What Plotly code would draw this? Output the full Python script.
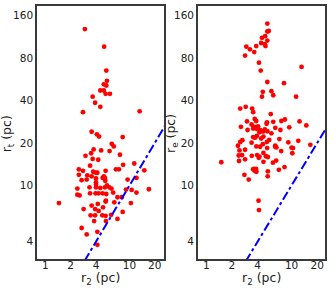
import plotly.graph_objects as go

# Left panel: r_2 vs r_t (pc)
left_r2 = [2.95, 5.0, 5.3, 5.4, 4.95, 5.3, 4.5, 4.95, 5.2, 5.85, 3.65, 3.9, 4.5, 2.8, 13.2,
           3.55, 4.1, 4.35, 8.3, 6.15, 6.5, 3.75, 4.6, 5.8, 3.5, 3.0, 4.25, 3.65, 7.7, 3.4,
           11.4, 8.4, 2.5, 2.8, 3.7, 4.0, 4.15, 5.2, 6.9, 7.5, 15.0, 2.5, 3.15, 3.55, 2.7,
           3.1, 4.0, 4.8, 4.95, 5.1, 5.15, 4.0, 5.4, 4.0, 9.5, 12.1, 2.4, 3.35, 4.0, 4.5,
           5.1, 5.75, 6.1, 9.1, 10.6, 17.0, 2.4, 2.55, 3.4, 3.95, 4.3, 4.8, 5.3, 6.4, 12.1,
           7.2, 8.1, 10.4, 1.45, 4.2, 3.55, 5.25, 5.2, 6.6, 2.85, 3.9, 4.3, 4.85, 3.45, 3.9,
           4.75, 5.2, 6.05, 8.3, 3.8, 5.25, 7.2, 2.7, 4.15, 3.1, 4.15]
left_rt = [128, 96, 65, 55, 52, 51, 47, 47, 44.5, 44.5, 42.5, 38.5, 36, 33, 33.5,
           24, 23, 22.2, 22, 19.7, 18.9, 18, 17.7, 17.5, 16.9, 16.2, 15.2, 15.4, 16.5, 13.8,
           14.3, 14, 13, 12.7, 12.5, 12.3, 12.3, 12.7, 13, 13, 12.8, 11.9, 11.8, 11.6, 10.9,
           11, 11.2, 11.3, 11.6, 11.3, 10.8, 10.5, 10.0, 10.1, 11, 11.3, 9.5, 9.7, 9.7, 9.6,
           9.7, 9.7, 9.5, 9.35, 9.3, 9.4, 8.6, 8.5, 8.8, 8.8, 8.8, 8.8, 8.7, 8.9, 8.9,
           8.25, 8.25, 7.5, 7.5, 7.4, 7.2, 7.8, 7.7, 7.6, 6.8, 6.8, 6.6, 7.0, 6.15, 6.15,
           6.15, 6.1, 6.2, 6.5, 5.6, 5.6, 5.8, 5.0, 4.7, 4.5, 3.8]

# Right panel: r_2 vs r_e (pc)
right_r2 = [5.2, 5.4, 5.2, 4.9, 4.5, 5.2, 4.4, 4.85, 4.95, 3.85, 2.95, 3.25, 3.65, 2.85,
            4.15, 13.1, 4.35, 5.2, 8.15, 5.8, 4.6, 6.1, 4.5, 11.3, 2.5, 2.9, 3.45, 3.55,
            5.7, 3.0, 3.7, 3.85, 5.15, 5.1, 6.1, 7.6, 8.35, 12.4, 14.9, 2.55, 3.4, 3.65,
            3.55, 4.05, 3.9, 3.05, 4.28, 4.52, 4.2, 4.68, 4.86, 5.2, 6.45, 7.4, 9.4, 3.54,
            3.92, 3.73, 4.68, 4.4, 5.8, 7.2, 2.65, 2.5, 2.35, 3.4, 4.28, 4.6, 5.13, 5.47,
            6.43, 6.65, 9.15, 10.0, 12.0, 16.6, 2.45, 2.85, 2.4, 2.63, 3.42, 3.95, 4.2,
            4.13, 4.68, 5.0, 6.05, 6.6, 7.56, 10.2, 10.4, 4.68, 5.27, 1.5, 2.42, 2.85,
            3.61, 3.84, 3.7, 3.87, 3.54, 5.27, 7.1, 8.27, 2.8, 5.25, 3.15, 4.1, 4.15,
            3.87, 5.17, 6.43]
right_re = [140, 124, 123, 114, 111, 106, 102, 100, 97, 97, 96, 92, 88, 83,
            74, 69, 65, 54, 53, 46.5, 46, 43.5, 42.5, 42.5, 35, 36, 35, 33,
            32, 28.4, 29.6, 28.6, 28, 27.3, 28.2, 28.6, 29.3, 28.4, 26.6, 26, 27, 26,
            25.3, 26.2, 25.2, 24.7, 24.6, 24.2, 23.8, 24.2, 24.9, 24.2, 25.6, 24.7, 25.8, 22,
            22.4, 21.8, 22.2, 21.5, 23.4, 21.3, 20.9, 20.3, 19.1, 20.1, 18.8, 19.6, 20.3, 21,
            19.1, 18.6, 20.2, 18.5, 20.7, 19.4, 17.7, 17.9, 16.3, 16.4, 16.2, 16.4, 16.0,
            15.7, 17.0, 16.1, 14.5, 15.0, 17.5, 16.9, 18.4, 14.7, 15.9, 14.6, 14.9, 15.3,
            13.1, 13.1, 12.7, 12.5, 13.0, 12.6, 12.9, 13.5, 11.9, 11.6, 11.0, 7.8, 6.7,
            18.9, 18.4, 18.8]

# one-to-one reference line (r = r_2)
one_to_one = [0.5, 200]

x_ticks = [1, 2, 4, 10, 20]
y_ticks = [4, 10, 20, 40, 80, 160]

font_family = "DejaVu Sans"
frame_color = "#3a3a3a"
text_color = "#222222"

fig = go.Figure()
fig.add_trace(go.Scatter(x=left_r2, y=left_rt, mode="markers",
                         marker=dict(color="#ff0000", size=4.8), xaxis="x", yaxis="y",
                         showlegend=False))
fig.add_trace(go.Scatter(x=one_to_one, y=one_to_one, mode="lines",
                         line=dict(color="#0000ff", width=2, dash="dashdot"),
                         xaxis="x", yaxis="y", showlegend=False))
fig.add_trace(go.Scatter(x=right_r2, y=right_re, mode="markers",
                         marker=dict(color="#ff0000", size=4.8), xaxis="x2", yaxis="y2",
                         showlegend=False))
fig.add_trace(go.Scatter(x=one_to_one, y=one_to_one, mode="lines",
                         line=dict(color="#0000ff", width=2, dash="dashdot"),
                         xaxis="x2", yaxis="y2", showlegend=False))

common_x = dict(type="log", tickvals=x_ticks, ticktext=[str(v) for v in x_ticks],
                showgrid=False, zeroline=False, showline=True, mirror=True,
                linecolor=frame_color, linewidth=1.5, ticks="", ticklabelstandoff=-4,
                tickfont=dict(family=font_family, size=10.5, color=text_color),
                automargin=False)
common_y = dict(type="log", tickvals=y_ticks, ticktext=[str(v) for v in y_ticks],
                showgrid=False, zeroline=False, showline=True, mirror=True,
                linecolor=frame_color, linewidth=1.5, ticks="",
                tickfont=dict(family=font_family, size=10.5, color=text_color),
                range=[0.48, 2.27], automargin=False)

title_font = dict(family=font_family, size=12.5, color=text_color)

fig.update_layout(
    width=336, height=288,
    margin=dict(l=0, r=0, t=0, b=0),
    paper_bgcolor="white", plot_bgcolor="white",
    xaxis=dict(common_x, domain=[0.110, 0.488], range=[-0.10, 1.41], anchor="y"),
    yaxis=dict(common_y, domain=[0.101, 0.979], anchor="x"),
    xaxis2=dict(common_x, domain=[0.589, 0.967], range=[-0.098, 1.391], anchor="y2"),
    yaxis2=dict(common_y, domain=[0.101, 0.979], anchor="x2"),
    annotations=[
        dict(text="r<sub>2</sub> (pc)", x=0.299, y=0.0, xref="paper", yref="paper",
             showarrow=False, font=title_font, xanchor="center", yanchor="bottom", borderpad=0),
        dict(text="r<sub>2</sub> (pc)", x=0.778, y=0.0, xref="paper", yref="paper",
             showarrow=False, font=title_font, xanchor="center", yanchor="bottom", borderpad=0),
        dict(text="r<sub>t</sub> (pc)", x=0.025, y=0.535, xref="paper", yref="paper",
             showarrow=False, font=title_font, textangle=-90, xanchor="center", yanchor="middle"),
        dict(text="r<sub>e</sub> (pc)", x=0.512, y=0.535, xref="paper", yref="paper",
             showarrow=False, font=title_font, textangle=-90, xanchor="center", yanchor="middle"),
    ],
)

fig.write_html("out.html", config={"displayModeBar": False},
               post_script="document.body.style.margin='0px';document.body.style.overflow='hidden';")
